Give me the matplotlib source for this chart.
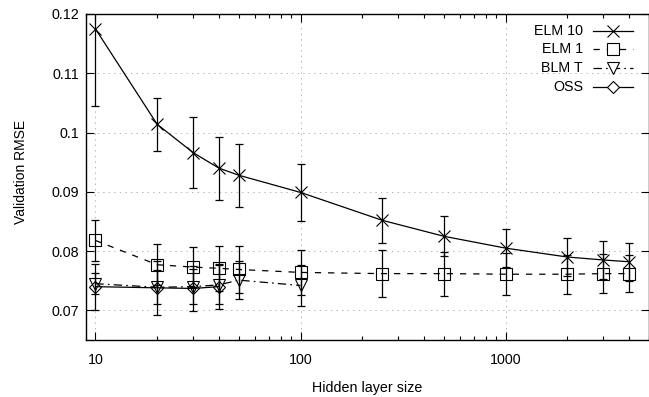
import matplotlib
matplotlib.use("Agg")
import matplotlib.pyplot as plt
from matplotlib.ticker import FixedLocator, LogLocator, NullFormatter, FuncFormatter

plt.rcParams['font.family'] = ['Liberation Sans', 'DejaVu Sans']
plt.rcParams['font.size'] = 10.3
plt.rcParams['lines.scale_dashes'] = False

# ---- data ----
x_elm10 = [10, 20, 30, 40, 50, 100, 250, 500, 1000, 2000, 3000, 4000]
y_elm10 = [0.1175, 0.1014, 0.0966, 0.0940, 0.0928, 0.0899, 0.0852, 0.0825, 0.0805, 0.0790, 0.0785, 0.0782]
e_elm10 = [0.0131, 0.0045, 0.0060, 0.0053, 0.0053, 0.0048, 0.0038, 0.0034, 0.0032, 0.0032, 0.0032, 0.0032]

x_elm1 = [10, 20, 30, 40, 50, 100, 250, 500, 1000, 2000, 3000, 4000]
y_elm1 = [0.0818, 0.0777, 0.0773, 0.0771, 0.0769, 0.0764, 0.0762, 0.0762, 0.0761, 0.0761, 0.0762, 0.0762]
e_elm1 = [0.0035, 0.0035, 0.0034, 0.0038, 0.0040, 0.0038, 0.0039, 0.0037, 0.0035, 0.0033, 0.0033, 0.0031]

x_blmt = [10, 20, 30, 40, 50, 100]
y_blmt = [0.0745, 0.0739, 0.0740, 0.0743, 0.0751, 0.0742]
e_blmt = [0.0018, 0.0029, 0.0030, 0.0033, 0.0032, 0.0035]

x_oss = [10, 20, 30, 40]
y_oss = [0.0740, 0.0738, 0.0737, 0.0740]
e_oss = [0.0039, 0.0046, 0.0038, 0.0038]

labels = ["ELM 10", "ELM 1", "BLM T", "OSS"]
x_ticks = [10, 100, 1000]
y_ticks = [0.07, 0.08, 0.09, 0.1, 0.11, 0.12]

# ---- figure ----
W, H = 649, 397
fig = plt.figure(figsize=(W / 100, H / 100), dpi=100)
ax = fig.add_axes([86 / W, 57 / H, 563 / W, 326 / H])

series = [
    (x_elm10, y_elm10, e_elm10, 'x', 8.5, '-'),
    (x_elm1, y_elm1, e_elm1, 's', 8.5, (0, (4.5, 5))),
    (x_blmt, y_blmt, e_blmt, 'v', 8.5, (0, (6, 3, 1.2, 3))),
    (x_oss, y_oss, e_oss, 'D', 6.5, '-'),
]

handles = []
for (xs, ys, es, mk, ms, ls), lab in zip(series, labels):
    ax.errorbar(xs, ys, yerr=es, fmt='none', ecolor='black', elinewidth=0.9,
                capsize=2.8, capthick=0.9, zorder=3)
    ax.plot(xs, ys, color='black', linestyle=ls, linewidth=0.9,
            marker=mk, markersize=ms, markerfacecolor='none',
            markeredgecolor='black', markeredgewidth=0.8, zorder=4)
    handles.append((mk, ms, ls))

ax.set_xscale('log')
ax.set_xlim(9, 5000)
ax.set_ylim(0.065, 0.12)

ax.xaxis.set_major_locator(FixedLocator(x_ticks))
ax.xaxis.set_major_formatter(FuncFormatter(lambda v, p: f"{int(round(v))}"))
ax.xaxis.set_minor_locator(LogLocator(base=10, subs=range(2, 10)))
ax.xaxis.set_minor_formatter(NullFormatter())
ax.yaxis.set_major_locator(FixedLocator(y_ticks))
ax.yaxis.set_major_formatter(FuncFormatter(lambda v, p: f"{v:g}"))

ax.tick_params(which='both', direction='in', top=True, right=True, color='black')
ax.tick_params(which='major', length=6, width=0.8, labelsize=10.3)
ax.tick_params(axis='y', which='major', pad=5)
ax.tick_params(axis='x', which='major', pad=9)
ax.tick_params(which='minor', length=3, width=0.8)

ax.grid(True, which='major', color='#a8a8a8', linestyle=(0, (1, 3)), linewidth=0.6)
ax.set_axisbelow(True)
for s in ax.spines.values():
    s.set_linewidth(1.0)

ax.set_xlabel("Hidden layer size", fontsize=10.3)
ax.xaxis.set_label_coords(0.5, -(381 - 340) / 326)
ax.set_ylabel("Validation RMSE", fontsize=10.0)
ax.yaxis.set_label_coords((28 - 86) / 563, (340 - 172) / 326)

# gnuplot-style key (text right-aligned, sample to the right)
rows = [31, 49, 68, 87]
tx = (583 - 86) / 563
lx0, lx1 = (593 - 86) / 563, (633 - 86) / 563
for (mk, ms, ls), lab, ry in zip(handles, labels, rows):
    yy = (340 - ry) / 326
    ax.text(tx, yy, lab, transform=ax.transAxes, ha='right', va='center', fontsize=10.3)
    ax.plot([lx0, lx1], [yy, yy], transform=ax.transAxes, color='black',
            linestyle=ls, linewidth=0.9, clip_on=False)
    ax.plot([(lx0 + lx1) / 2], [yy], transform=ax.transAxes, marker=mk,
            markersize=ms, markerfacecolor='white', markeredgecolor='black',
            markeredgewidth=0.8, linestyle='none', clip_on=False)

fig.savefig("out.png", dpi=100)
